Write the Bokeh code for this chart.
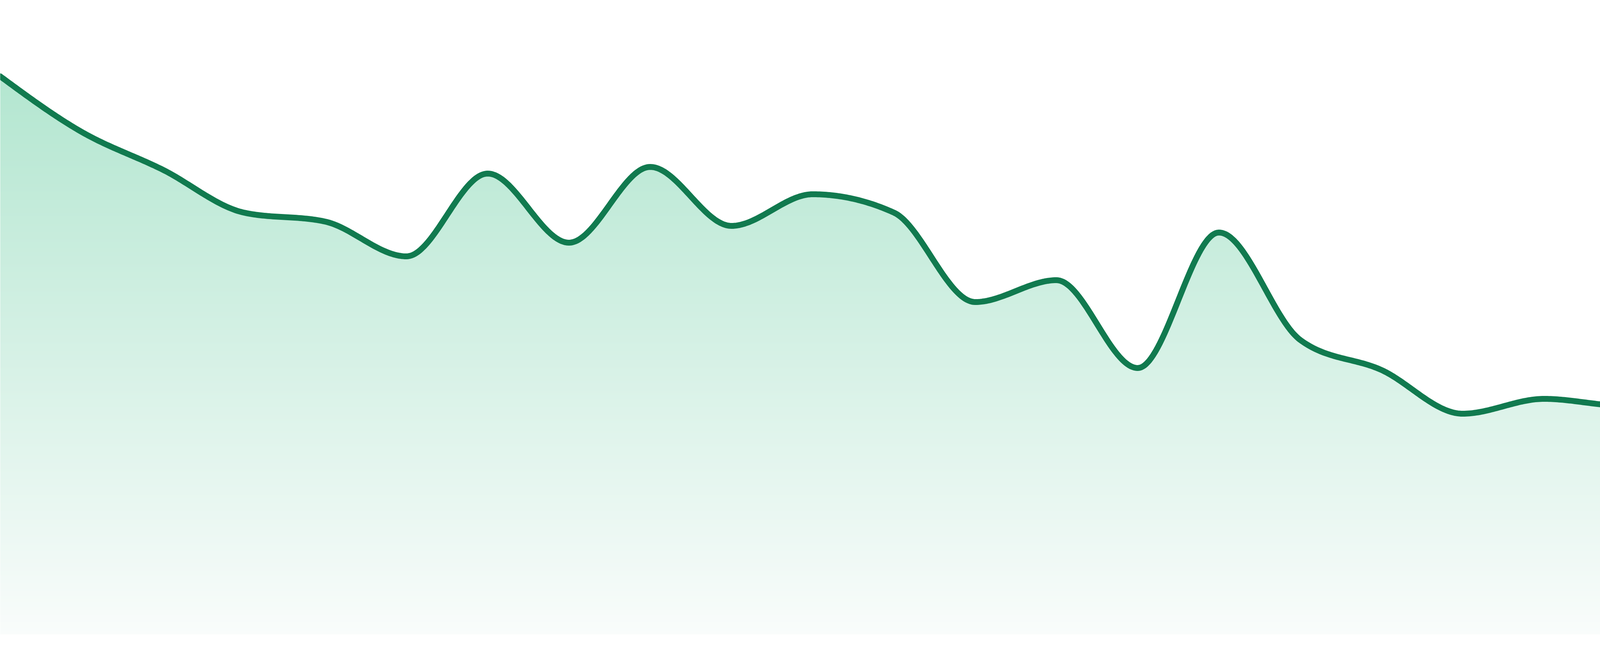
import numpy as np
from bokeh.plotting import figure
from bokeh.models import Range1d
from bokeh.embed import file_html
from bokeh.resources import INLINE

# ---- data ----
x_index = list(range(24))
values = [142.9, 128.7, 119.0, 108.0, 105.7, 96.8, 118.0, 100.3, 119.7, 104.6,
          112.7, 108.0, 85.1, 90.7, 68.2, 102.9, 75.4, 67.7, 56.5, 60.3,
          58.5, 61.3, 61.1, 64.4]

line_color = "#117a4f"
fill_top = (179, 230, 208)
fill_bottom = (249, 252, 251)

# ---- monotone-x cubic (same as d3.curveMonotoneX) ----
def monotone_curve(xs, ys, n=48):
    xs = np.asarray(xs, float); ys = np.asarray(ys, float)
    m = len(xs)
    h = np.diff(xs); s = np.diff(ys) / h
    t = np.zeros(m)
    for i in range(1, m - 1):
        s0, s1 = s[i - 1], s[i]
        p = (s0 * h[i] + s1 * h[i - 1]) / (h[i - 1] + h[i])
        t[i] = (np.sign(s0) + np.sign(s1)) * min(abs(s0), abs(s1), 0.5 * abs(p))
    t[0] = (3 * s[0] - t[1]) / 2
    t[-1] = (3 * s[-1] - t[-2]) / 2
    ox, oy = [], []
    for i in range(m - 1):
        x0, x1, y0, y1 = xs[i], xs[i + 1], ys[i], ys[i + 1]
        dx = (x1 - x0) / 3
        cx0, cy0 = x0 + dx, y0 + dx * t[i]
        cx1, cy1 = x1 - dx, y1 - dx * t[i + 1]
        u = np.linspace(0, 1, n, endpoint=(i == m - 2))
        a = (1 - u) ** 3; b = 3 * (1 - u) ** 2 * u; c = 3 * (1 - u) * u ** 2; d = u ** 3
        ox.extend(a * x0 + b * cx0 + c * cx1 + d * x1)
        oy.extend(a * y0 + b * cy0 + c * cy1 + d * y1)
    return np.array(ox), np.array(oy)

cx, cy = monotone_curve(x_index, values)

vmax = max(values)
y_lo, y_hi = -4.0, 162.4

p = figure(width=4784, height=1664, output_backend="svg", toolbar_location=None,
           x_range=Range1d(x_index[0], x_index[-1]), y_range=Range1d(y_lo, y_hi),
           min_border=0, background_fill_color="white", border_fill_color="white")
p.axis.visible = False
p.grid.visible = False
p.outline_line_color = None

# vertical gradient image from baseline (0) to top of area (vmax)
rows = 1400
img = np.empty((rows, 1), dtype=np.uint32)
view = img.view(dtype=np.uint8).reshape((rows, 1, 4))
f = np.linspace(0, 1, rows)  # 0 at bottom, 1 at top
for k in range(3):
    view[:, 0, k] = np.round(fill_bottom[k] + (fill_top[k] - fill_bottom[k]) * f).astype(np.uint8)
view[:, 0, 3] = 255
p.image_rgba(image=[img], x=x_index[0], y=0, dw=x_index[-1] - x_index[0], dh=vmax)

# white mask above the curve
mask_x = list(cx) + [x_index[-1], x_index[0]]
mask_y = list(cy) + [y_hi + 10, y_hi + 10]
p.patch(mask_x, mask_y, fill_color="white", line_color=None)

# the line
p.line(cx, cy, line_color=line_color, line_width=15, line_join="round", line_cap="round")

open("out.html", "w").write(file_html(p, INLINE))
